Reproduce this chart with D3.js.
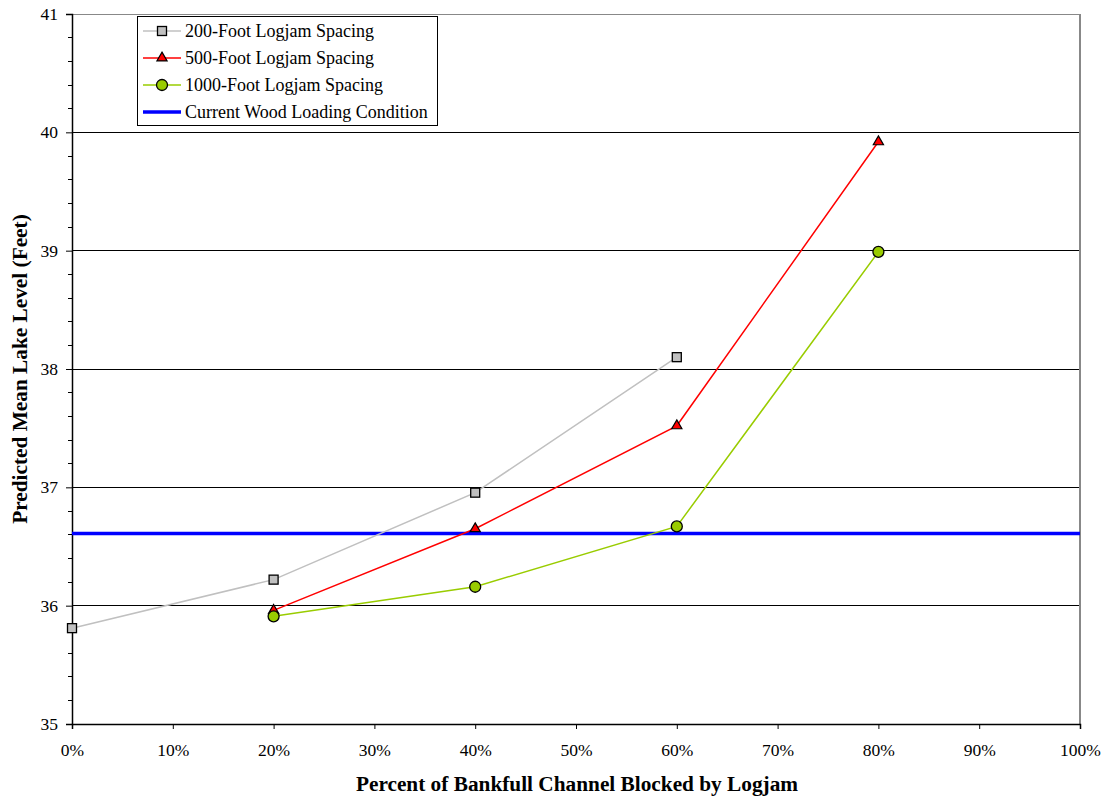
<!DOCTYPE html>
<html><head><meta charset="utf-8">
<script src="https://cdn.jsdelivr.net/npm/d3@7"></script>
<style>
body{margin:0;background:#fff}svg{display:block}
.tick text{font-family:'Liberation Serif','Times New Roman',serif;font-size:17.5px;fill:#000}
</style>
</head><body>
<svg id="c" width="1105" height="798"></svg>
<script>
const xValues = [0, 0.2, 0.4, 0.6, 0.8];
const spacing200 = [35.81, 36.22, 36.955, 38.10, null];
const spacing500 = [null, 35.96, 36.65, 37.52, 39.92];
const spacing1000 = [null, 35.91, 36.16, 36.67, 38.99];
const currentCondition = 36.61;
const seriesNames = ["200-Foot Logjam Spacing", "500-Foot Logjam Spacing", "1000-Foot Logjam Spacing", "Current Wood Loading Condition"];
const xTicks = [0,0.1,0.2,0.3,0.4,0.5,0.6,0.7,0.8,0.9,1.0];
const yTicks = [35,36,37,38,39,40,41];

const svg = d3.select("#c");
const L=72, R=1080, T=14, B=724;
const x = d3.scaleLinear().domain([0,1]).range([L,R]);
const y = d3.scaleLinear().domain([35,41]).range([B,T]);
const font = "'Liberation Serif','Times New Roman',serif";

// gridlines
svg.append("g").selectAll("line").data(yTicks.slice(1)).join("line")
  .attr("x1",L).attr("x2",R).attr("y1",d=>y(d)).attr("y2",d=>y(d))
  .attr("stroke",d=>d===41?"#888":"#000").attr("stroke-width",1).attr("shape-rendering","crispEdges");
// right border
svg.append("line").attr("x1",R).attr("x2",R).attr("y1",T).attr("y2",B)
  .attr("stroke","#888").attr("stroke-width",1.5).attr("shape-rendering","crispEdges");

// y axis
const yAxis = d3.axisLeft(y).tickValues(yTicks).tickSize(6).tickPadding(8).tickFormat(d3.format("d"));
const gy = svg.append("g").attr("transform",`translate(${L},0)`).call(yAxis);
const minor = d3.range(35,41.001,0.2).filter(v=>Math.abs(v-Math.round(v))>1e-6);
svg.append("g").selectAll("line").data(minor).join("line")
  .attr("x1",L-4).attr("x2",L).attr("y1",d=>y(d)).attr("y2",d=>y(d))
  .attr("stroke","#000").attr("shape-rendering","crispEdges");
// x axis
const xAxis = d3.axisBottom(x).tickValues(xTicks).tickSize(5).tickPadding(15).tickFormat(d3.format(".0%"));
const gx = svg.append("g").attr("transform",`translate(0,${B})`).call(xAxis);
[gx,gy].forEach(g=>{
  g.attr("font-family",font).attr("font-size",17.5);
  g.select(".domain").attr("stroke","#000").attr("stroke-width",1.5);
  g.selectAll(".tick line").attr("stroke","#000");
  g.selectAll(".tick text").style("font-family",font).style("font-size","17.5px").style("fill","#000");
});

// current line
svg.append("line").attr("x1",L).attr("x2",R).attr("y1",y(currentCondition)).attr("y2",y(currentCondition))
  .attr("stroke","#0000ff").attr("stroke-width",3.5);

const series = [
  {name:seriesNames[0], vals:spacing200, color:"#c0c0c0", marker:"square", fill:"#c0c0c0"},
  {name:seriesNames[1], vals:spacing500, color:"#ff0000", marker:"triangle", fill:"#ff0000"},
  {name:seriesNames[2], vals:spacing1000, color:"#99cc00", marker:"circle", fill:"#99cc00"}
];
const line = d3.line().defined(d=>d[1]!=null).x(d=>x(d[0])).y(d=>y(d[1]));
function drawMarker(g, type, cx, cy, fill){
  if(type==="square"){
    g.append("rect").attr("x",cx-4.5).attr("y",cy-4.5).attr("width",9).attr("height",9)
      .attr("fill",fill).attr("stroke","#000").attr("stroke-width",1.3);
  } else if(type==="triangle"){
    g.append("path").attr("d",d3.symbol(d3.symbolTriangle,45)()).attr("transform",`translate(${cx},${cy})`)
      .attr("fill",fill).attr("stroke","#000").attr("stroke-width",1.2);
  } else {
    g.append("circle").attr("cx",cx).attr("cy",cy).attr("r",5.5)
      .attr("fill",fill).attr("stroke","#000").attr("stroke-width",1.3);
  }
}
series.forEach(s=>{
  const pts = xValues.map((xv,i)=>[xv,s.vals[i]]);
  svg.append("path").datum(pts).attr("d",line).attr("fill","none").attr("stroke",s.color).attr("stroke-width",1.5);
  const g = svg.append("g");
  pts.filter(p=>p[1]!=null).forEach(p=>drawMarker(g,s.marker,x(p[0]),y(p[1]),s.fill));
});

// legend
const lg = svg.append("g");
lg.append("rect").attr("x",137.5).attr("y",16.5).attr("width",300).attr("height",109)
  .attr("fill","#fff").attr("stroke","#000").attr("stroke-width",1);
const legendItems = [
  {name:seriesNames[0], color:"#c0c0c0", marker:"square", w:1.5},
  {name:seriesNames[1], color:"#ff0000", marker:"triangle", w:1.5},
  {name:seriesNames[2], color:"#99cc00", marker:"circle", w:1.5},
  {name:seriesNames[3], color:"#0000ff", marker:null, w:3.5}
];
legendItems.forEach((it,i)=>{
  const cy = 31 + i*27;
  lg.append("line").attr("x1",143).attr("x2",181).attr("y1",cy).attr("y2",cy)
    .attr("stroke",it.color).attr("stroke-width",it.w);
  if(it.marker) drawMarker(lg,it.marker,162,cy,it.color);
  lg.append("text").attr("x",185).attr("y",cy+6).attr("font-family",font).attr("font-size",18)
    .text(it.name);
});

// axis titles
svg.append("text").attr("x",(L+R)/2 + 1).attr("y",791).attr("text-anchor","middle")
  .attr("font-family",font).attr("font-weight","bold").attr("font-size",21.3)
  .text("Percent of Bankfull Channel Blocked by Logjam");
svg.append("text").attr("transform",`translate(27,${(T+B)/2}) rotate(-90)`).attr("text-anchor","middle")
  .attr("font-family",font).attr("font-weight","bold").attr("font-size",21.3)
  .text("Predicted Mean Lake Level (Feet)");
</script>
</body></html>
